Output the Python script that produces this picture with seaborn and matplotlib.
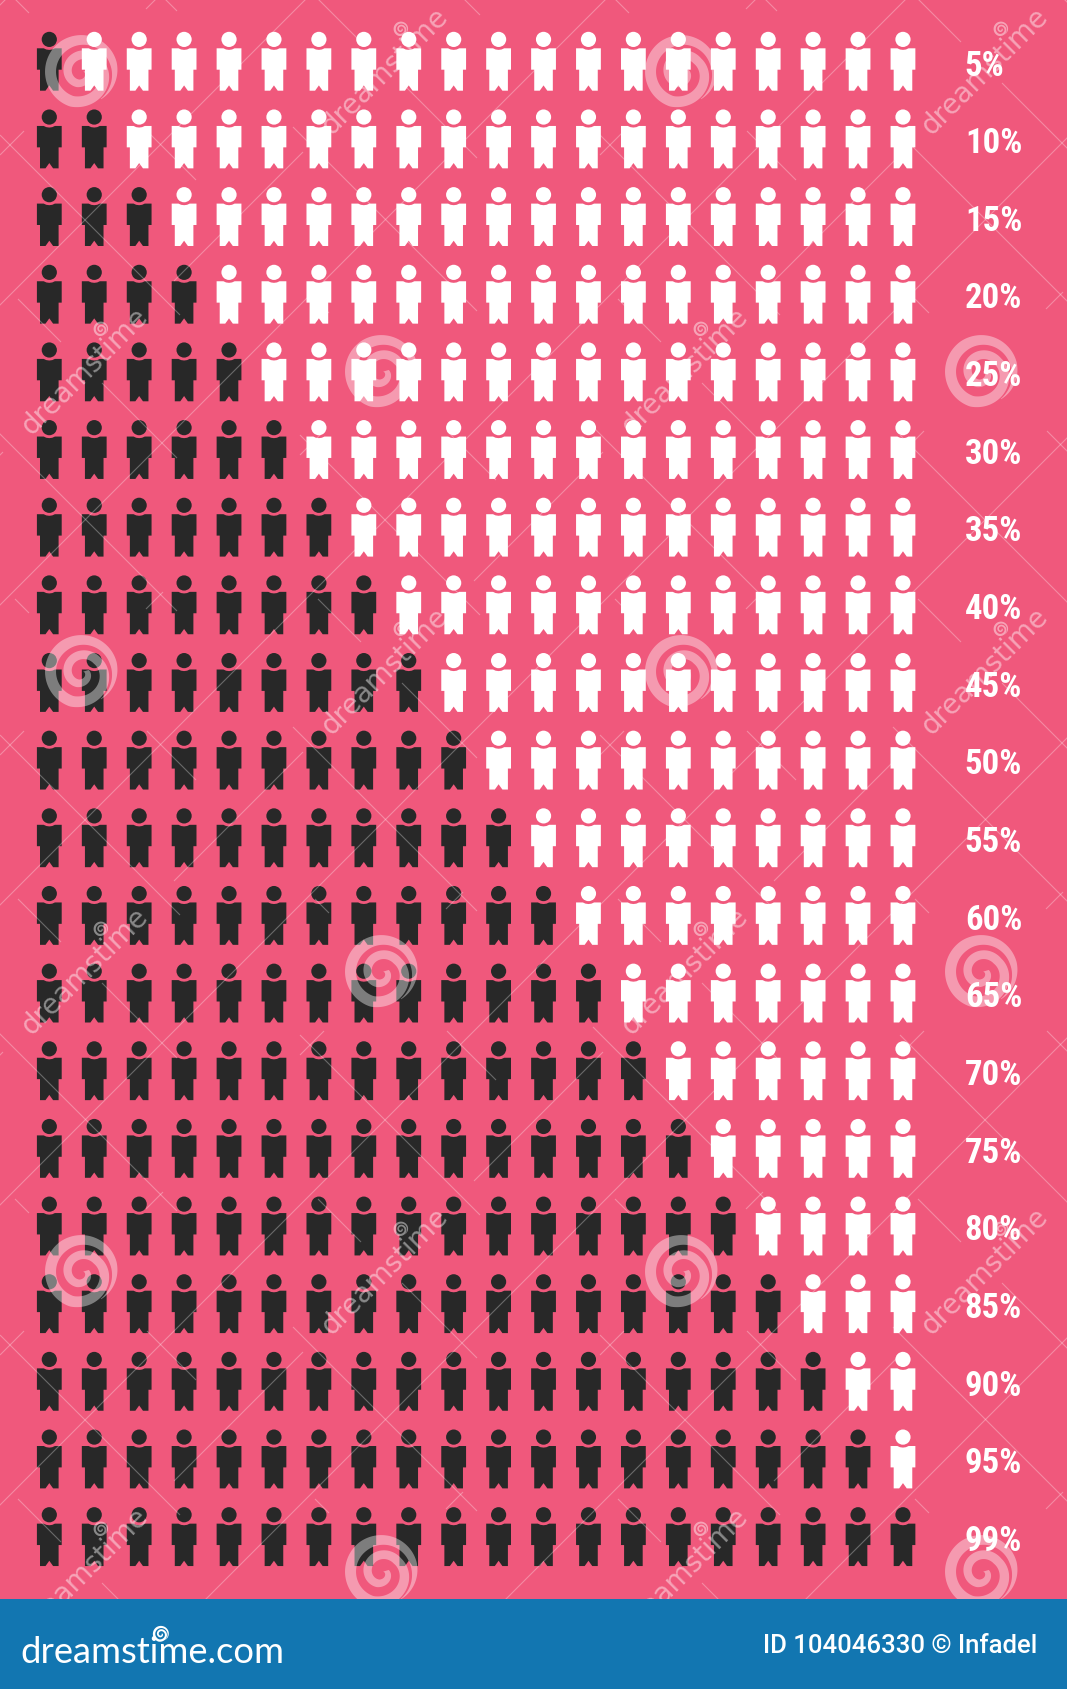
import numpy as np
import pandas as pd
import matplotlib
matplotlib.use("Agg")
import matplotlib.pyplot as plt
import seaborn as sns
from matplotlib import font_manager as fm
from matplotlib.collections import LineCollection
from matplotlib.patches import Polygon, Rectangle
from matplotlib.path import Path

# data
labels = ["5%", "10%", "15%", "20%", "25%", "30%", "35%", "40%", "45%", "50%",
          "55%", "60%", "65%", "70%", "75%", "80%", "85%", "90%", "95%", "99%"]
filled = [1, 2, 3, 4, 5, 6, 7, 8, 9, 10,
          11, 12, 13, 14, 15, 16, 17, 18, 19, 20]
people_per_row = 20

PINK = "#F0587C"
BLUE = "#1276B1"
DARK = "#282828"
W, H = 1067, 1690
FOOT = 1600

# watermark tile positions
spiral_x = [82, 682, 382, 982, 82, 682, 382, 982, 82, 682, 382, 982]
spiral_y = [73, 73, 373, 373, 673, 673, 973, 973, 1273, 1273, 1573, 1573]
mark_x = [385, 985, 85, 685, 385, 985, 85, 685, 385, 985, 85, 685]
mark_y = [71, 71, 371, 371, 671, 671, 971, 971, 1271, 1271, 1571, 1571]
# (x - y, x from, x to) and (x + y, x from, x to), repeating across the tile
back_lines = [(15, 15, 29), (15, 147, 196), (165, 293, 477), (-136, 0, 180),
              (318, 318, 361), (318, 402, 477)]
fwd_lines = [(306, 0, 300), (606, 0, 300), (456, 174, 303), (156, 0, 24), (156, 146, 163)]


def person_marker():
    """Little man as a marker, in pixels around his centre."""
    head = Path.circle((0, 21.8), 7.6)
    outline = [(-12.4, 12.9), (-5.6, 12.9), (-3, 11.7), (0, 11.3), (3, 11.7), (5.6, 12.9),
               (12.4, 12.9), (12.4, -8.5), (9.3, -8.5), (9.3, -29.5), (3.8, -29.5),
               (0, -24.2), (-3.8, -29.5), (-9.3, -29.5), (-9.3, -8.5), (-12.4, -8.5),
               (-12.4, 12.9)]
    return Path.make_compound_path(head, Path(outline, closed=True))


def spiral(cx, cy, scale=1.0):
    """Outline of the watermark spiral."""
    t = np.linspace(0, 2.2, 300)
    r = np.interp(t, [0, 0.85, 1.25, 1.85, 2.2], [33, 31, 19, 12, 4]) * scale
    w = np.interp(t, [0, 0.2, 0.5, 0.85, 1.25, 1.85, 2.2], [0.5, 7, 11, 11, 9, 8, 6]) * scale
    a = np.radians(-55) + t * 2 * np.pi
    outer = np.c_[cx + (r + w / 2) * np.cos(a), cy - (r + w / 2) * np.sin(a)]
    inner = np.c_[cx + (r - w / 2) * np.cos(a), cy - (r - w / 2) * np.sin(a)]
    return np.vstack([outer, inner[::-1]])


def diagonal_segments():
    segs = []
    for k in range(-4, 6):
        for m in range(-8, 10):
            for c, x0, x1 in back_lines:
                x0m, x1m = x0 + 300 * m, x1 + 300 * m
                segs.append([(x0m, x0m - c - 600 * k), (x1m, x1m - c - 600 * k)])
            for c, x0, x1 in fwd_lines:
                x0m, x1m = x0 + 300 * m, x1 + 300 * m
                segs.append([(x0m, c + 600 * k - x0m), (x1m, c + 600 * k - x1m)])
    return segs


def narrow_family():
    """Narrowest family that is there, the percent labels are a condensed face."""
    installed = {f.name for f in fm.fontManager.ttflist}
    for name in ["Roboto Condensed", "Liberation Sans Narrow", "Open Sans Condensed"]:
        if name in installed:
            return name, 25
    return "Roboto", 22


rows = []
for i, n in enumerate(filled):
    for j in range(people_per_row):
        rows.append({"row": i, "col": j, "state": "done" if j < n else "left"})
df = pd.DataFrame(rows)

sns.set_theme(style="white")
fig = plt.figure(figsize=(W / 100, H / 100), dpi=100, facecolor=PINK)

# grid axes, limits put the first man at x=49.3 and y=62.2 px
ax = fig.add_axes([0, (H - FOOT) / H, 1, FOOT / H])
ax.set_axis_off()
sns.scatterplot(data=df, x="col", y="row", hue="state", palette={"done": DARK, "left": "white"},
                marker=person_marker(), s=(59 * 0.72) ** 2, linewidth=0, legend=False, ax=ax)
ax.set_xlim(-49.3 / 44.93, (W - 49.3) / 44.93)
ax.set_ylim((FOOT - 62.2) / 77.65, -62.2 / 77.65)

label_family, label_size = narrow_family()
for i, txt in enumerate(labels):
    ax.annotate(txt, (people_per_row, i), xytext=(12.2, -9.6), textcoords="offset points",
                color="white", fontsize=label_size, fontweight="bold", va="baseline", ha="left",
                family=label_family)

# overlay in picture pixels for watermark and footer
top = fig.add_axes([0, 0, 1, 1], zorder=5)
top.set_xlim(0, W)
top.set_ylim(H, 0)
top.set_axis_off()

top.add_collection(LineCollection(diagonal_segments(), colors="white", linewidths=0.8, alpha=0.3))
for x, y in zip(spiral_x, spiral_y):
    top.add_patch(Polygon(spiral(x, y), closed=True, fc="white", ec="none", alpha=0.4))
for x, y in zip(mark_x, mark_y):
    top.text(x, y, "dreamstime", color="white", alpha=0.45, fontsize=20, rotation=45,
             rotation_mode="anchor", ha="center", va="center", family="DejaVu Sans")
    top.add_patch(Polygon(spiral(x + 16, y - 41, 0.2), closed=True, fc="white", ec="none", alpha=0.45))

top.add_patch(Rectangle((0, FOOT), W, H - FOOT, fc=BLUE, ec="none", zorder=3))
top.text(20, 1662.7, "dreamstime.com", color="white", fontsize=26.2, va="baseline", ha="left",
         family="Lato", zorder=4)
top.add_patch(Polygon(spiral(161, 1635, 0.22), closed=True, fc="white", ec="none", zorder=4))
top.text(1037.7, 1653, "ID 104046330 © Infadel", color="white", fontsize=18.5, fontweight="medium",
         va="baseline", ha="right", family="Roboto", zorder=4)

fig.savefig("out.png", dpi=100, facecolor=PINK)
